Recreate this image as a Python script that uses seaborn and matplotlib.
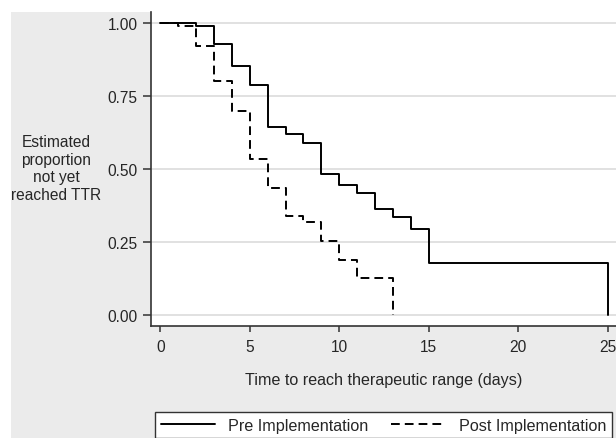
import numpy as np
import pandas as pd
import matplotlib
matplotlib.use("Agg")
import matplotlib.pyplot as plt
import matplotlib.patches as mpatches
import seaborn as sns

# ---- data ----
pre_days = [0, 2, 3, 4, 5, 6, 7, 8, 9, 10, 11, 12, 13, 14, 15, 25]
pre_surv = [1.00, 0.988, 0.927, 0.850, 0.787, 0.645, 0.620, 0.589, 0.484,
            0.444, 0.418, 0.364, 0.336, 0.296, 0.179, 0.0]
post_days = [0, 1, 2, 3, 4, 5, 6, 7, 8, 9, 10, 11, 13]
post_surv = [1.00, 0.988, 0.919, 0.802, 0.698, 0.535, 0.435, 0.341, 0.319,
             0.253, 0.190, 0.128, 0.0]
groups = ["Pre Implementation", "Post Implementation"]
y_ticks = [0.0, 0.25, 0.50, 0.75, 1.00]
y_tick_labels = ["0.00", "0.25", "0.50", "0.75", "1.00"]
x_ticks = [0, 5, 10, 15, 20, 25]

df = pd.DataFrame({
    "days": pre_days + post_days,
    "surv": pre_surv + post_surv,
    "group": [groups[0]] * len(pre_days) + [groups[1]] * len(post_days),
})

sns.set_theme(style="white")
plt.rcParams["font.family"] = ["Liberation Sans", "DejaVu Sans"]

W, H = 616, 439
fig = plt.figure(figsize=(W / 100, H / 100), dpi=100, facecolor="white")
# light gray graph region
fig.patches.append(mpatches.Rectangle((11 / W, 0), 1, 1 - 13 / H,
                                      transform=fig.transFigure,
                                      facecolor="#ebebeb", edgecolor="none",
                                      zorder=-10))

ax = fig.add_axes([151 / W, (H - 327) / H, (W - 151) / W, (327 - 13) / H])
ax.set_facecolor("white")

sns.lineplot(data=df, x="days", y="surv", hue="group", style="group",
             hue_order=groups, style_order=groups,
             palette={groups[0]: "black", groups[1]: "black"},
             dashes={groups[0]: "", groups[1]: (4.5, 2.6)},
             estimator=None, sort=False, drawstyle="steps-post",
             linewidth=1.4, ax=ax, legend=True)

handles, labels = ax.get_legend_handles_labels()
ax.get_legend().remove()

ax.set_xlim(-0.52, 25.46)
ax.set_ylim(-0.036, 1.036)
ax.set_yticks(y_ticks)
ax.set_yticklabels(y_tick_labels)
ax.set_xticks(x_ticks)
ax.grid(axis="y", color="#dcdcdc", linewidth=1.2)
ax.grid(axis="x", visible=False)
ax.set_axisbelow(True)

for s in ["top", "right"]:
    ax.spines[s].set_visible(False)
for s in ["left", "bottom"]:
    ax.spines[s].set_color("#333333")
    ax.spines[s].set_linewidth(1.2)

ax.tick_params(axis="y", direction="out", length=6, width=1.1,
               color="#333333", labelsize=11.2, pad=3.5, left=True)
ax.tick_params(axis="x", direction="out", length=4.5, width=1.1,
               color="#333333", labelsize=11.2, pad=5, bottom=True)

ax.set_xlabel("Time to reach therapeutic range (days)", fontsize=11.6, labelpad=13)
ax.set_ylabel("")
fig.text(56 / W, 1 - 169 / H, "Estimated\nproportion\nnot yet\nreached TTR",
         ha="center", va="center", fontsize=11.2, linespacing=1.22)

leg = fig.legend(handles, labels, loc="upper left",
                 bbox_to_anchor=(155 / W, 0, (612 - 155) / W, 1 - 413 / H),
                 mode="expand", ncol=2, fontsize=11.6, frameon=True,
                 fancybox=False, edgecolor="#333333", facecolor="white",
                 framealpha=1, handlelength=3.4, borderpad=0.35,
                 borderaxespad=0, handletextpad=0.8, columnspacing=1.5)
leg.get_frame().set_linewidth(1.0)

fig.savefig("out.png", dpi=100, facecolor=fig.get_facecolor())
